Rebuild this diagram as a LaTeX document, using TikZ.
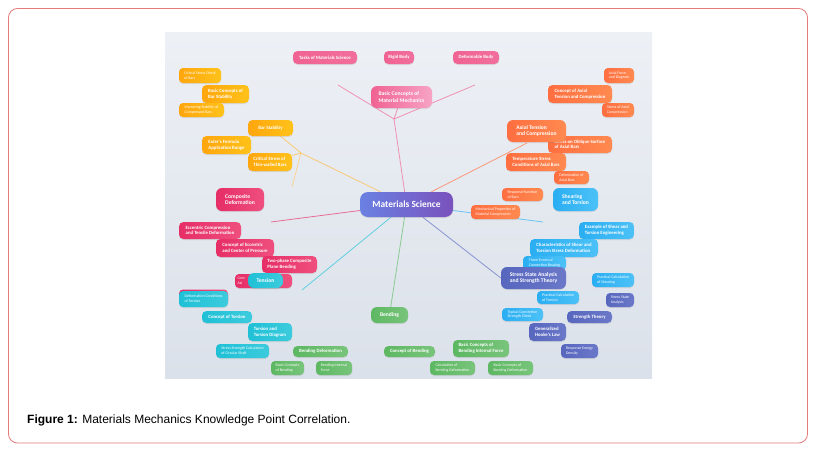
\documentclass[tikz,border=0pt]{standalone}
\usepackage{fontspec}
\newfontfamily\mapfont{Carlito}
\newfontfamily\capfont{Liberation Sans}
\usetikzlibrary{shadows}
\pgfdeclarelayer{bg}
\pgfdeclarelayer{lnk}
\pgfsetlayers{bg,lnk,main}
\definecolor{pkA}{HTML}{F06292}
\definecolor{pkB}{HTML}{F7A3C5}
\definecolor{crA}{HTML}{E62E66}
\definecolor{crB}{HTML}{EF4F7E}
\definecolor{amA}{HTML}{FFA60D}
\definecolor{amB}{HTML}{FFC21A}
\definecolor{orA}{HTML}{FF6E40}
\definecolor{orB}{HTML}{FF8A50}
\definecolor{cyA}{HTML}{1FC0D6}
\definecolor{cyB}{HTML}{3CCBDD}
\definecolor{blA}{HTML}{2AAEF2}
\definecolor{blB}{HTML}{4CC1F7}
\definecolor{grA}{HTML}{5DB862}
\definecolor{grB}{HTML}{78C47B}
\definecolor{inA}{HTML}{5767BE}
\definecolor{inB}{HTML}{6B78C9}
\definecolor{msA}{HTML}{6A80E2}
\definecolor{msB}{HTML}{7A52BD}
\definecolor{frm}{HTML}{E47A7A}
\tikzset{
    BX/.style ={align=left, text=white, inner sep=0pt,
        drop shadow={shadow xshift=0pt, shadow yshift=-1pt, opacity=0.18}},
    BA/.style ={BX, rounded corners=6pt, font=\mapfont\bfseries\fontsize{5.6}{6.8}\selectfont},
    BB/.style ={BX, rounded corners=4.5pt, font=\mapfont\bfseries\fontsize{4.8}{5.6}\selectfont},
    BC/.style ={BX, rounded corners=4pt, font=\mapfont\fontsize{3.9}{4.7}\selectfont},
    MS/.style ={BX, rounded corners=8pt, left color=msA, right color=msB,
        font=\mapfont\bfseries\fontsize{9.4}{10}\selectfont},
    sz/.style 2 args={minimum width=#1pt, minimum height=#2pt},
    PK/.style ={left color=pkA, right color=pkA!80!pkB},
    PG/.style ={left color=pkA, right color=pkB},
    CR/.style ={left color=crA, right color=crB},
    AM/.style ={left color=amA, right color=amB},
    OR/.style ={left color=orA, right color=orB},
    CY/.style ={left color=cyA, right color=cyB},
    BL/.style ={left color=blA, right color=blB},
    GR/.style ={left color=grA, right color=grB},
    IN/.style ={left color=inA, right color=inB},
    LK/.style ={line width=0.8pt, opacity=0.8}}

\begin{document}
\begin{tikzpicture}[x=1pt,y=-1pt]
        \useasboundingbox (0,0) rectangle (817,450);
        \begin{pgfonlayer}{bg}
        \fill[white] (0,0) rectangle (817,450);
        \draw[frm, line width=0.8pt, rounded corners=9pt] (8.5,8.5) rectangle (807.5,443);
        \shade[top color={rgb,255:red,237;green,240;blue,245}, bottom color={rgb,255:red,219;green,225;blue,234}] (165,32) rectangle (652,378);
        \end{pgfonlayer}
        % upper branches
        \node[BB,PK,sz={64}{13}] (tasks) at(325,57.5){Tasks of Materials Science};
        \node[BB,PK,sz={30}{13}] (rigid) at(399,57.5){Rigid Body};
        \node[BB,PK,sz={46}{13}] (defb) at(476,57.5){Deformable Body};
        \node[BA,PG,sz={61}{22}] (bcm) at(401.5,97){Basic Concepts of\\Material Mechanics};
        \node[BC,AM,sz={42}{15}] (csc) at(200,75.5){Critical Stress Check\\of Bars};
        \node[BB,AM,sz={47}{18}] (bcbs) at(225.5,94){Basic Concepts of\\Bar Stability};
        \node[BC,AM,sz={45}{14}] (isb) at(201.5,110){Improving Stability of\\Compressed Bars};
        \node[BB,AM,sz={45}{16}] (bar) at(270.5,128){Bar Stability};
        \node[BB,AM,sz={49}{18}] (euler) at(226.5,145){Euler's Formula\\Application Range};
        \node[BB,AM,sz={44}{18}] (crt) at(270,162){Critical Stress of\\Thin-walled Bars};
        \node[BC,OR,sz={30}{15}] (afd) at(619,75.5){Axial Force\\and Diagram};
        \node[BB,OR,sz={64}{18}] (cata) at(580,94){Concept of Axial\\Tension and Compression};
        \node[BC,OR,sz={32}{14}] (sac) at(618,110){Stress of Axial\\Compression};
        \node[BB,OR,sz={64}{17}] (sob) at(580,144.5){Stress on Oblique Surface\\of Axial Bars};
        \node[BA,OR,sz={59}{22}] (atc) at(536.5,131){Axial Tension\\and Compression};
        \node[BB,OR,sz={60}{18}] (tmp) at(536,162){Temperature Stress\\Conditions of Axial Bars};
        \node[BC,OR,sz={35}{13}] (dab) at(571.5,177.5){Deformation of\\Axial Bars};
        \node[BC,OR,sz={41}{13}] (rfb) at(522.5,194.5){Response Function\\of Bars};
        \node[BA,BL,sz={45}{23}] (sht) at(575.5,199.5){Shearing\\and Torsion};
        \node[BC,OR,sz={49}{14}] (mpm) at(495.5,212){Mechanical Properties of\\Material Compression};
        \node[MS,sz={93}{25}] (ms) at(406.5,204.5){Materials Science};
        % left branches
        \node[BA,CR,sz={48}{23}] (cpd) at(240,199.5){Composite\\Deformation};
        \node[BB,CR,sz={62}{17}] (ecc) at(210,230.5){Eccentric Compression\\and Tensile Deformation};
        \node[BB,CR,sz={58}{18}] (cec) at(245,248){Concept of Eccentric\\and Center of Pressure};
        \node[BB,CR,sz={55}{17}] (tpc) at(289.5,264.5){Two-phase Composite\\Plane Bending};
        \node[BC,CR,sz={57}{14}, text width=52pt] (cax) at(263.5,281){Com\\Axi};
        \node[BA,CY,sz={35}{15}] (tens) at(265.5,280.5){Tension};
        \node[BC,CR,sz={49}{15}] (cbk) at(203.5,297){};
        \node[BC,CY,sz={49}{16}] (dct) at(203.5,299){Deformation Conditions\\of Torsion};
        \node[BB,CY,sz={50}{12}] (ctor) at(227,317){Concept of Torsion};
        \node[BB,CY,sz={44}{18}] (ttd) at(270,332){Torsion and\\Torsion Diagram};
        \node[BC,CY,sz={53}{14}] (sscs) at(242.5,351){Stress Strength Calculation\\of Circular Shaft};
        % lower branches
        \node[BB,GR,sz={55}{11}] (bdef) at(320.5,351.5){Bending Deformation};
        \node[BC,GR,sz={33}{14}] (bcb) at(287.5,368){Basic Concepts\\of Bending};
        \node[BC,GR,sz={36}{14}] (bif) at(334,368){Bending Internal\\Force};
        \node[BA,GR,sz={37}{16}] (bend) at(389.5,315){Bending};
        \node[BB,GR,sz={51}{11}] (cben) at(409.5,351.5){Concept of Bending};
        \node[BB,GR,sz={56}{17}] (bcbif) at(481,348.5){Basic Concepts of\\Bending Internal Force};
        \node[BC,GR,sz={45}{14}] (cbd) at(452.5,368){Calculation of\\Bending Deformation};
        \node[BC,GR,sz={45}{14}] (bcbd) at(510.5,368){Basic Concepts of\\Bending Deformation};
        % right branches
        \node[BB,BL,sz={55}{17}] (esh) at(606.5,230.5){Example of Shear and\\Torsion Engineering};
        \node[BB,BL,sz={68}{18}] (csh) at(564,248){Characteristics of Shear and\\Torsion Stress Deformation};
        \node[BC,BL,sz={43}{14}] (tfc) at(544.5,263){Three Forms of\\Connection Bearing};
        \node[BA,IN,sz={65}{22}] (ssa) at(533.5,278){Stress State Analysis\\and Strength Theory};
        \node[BC,BL,sz={42}{14}] (pcs) at(613,280){Practical Calculation\\of Shearing};
        \node[BC,BL,sz={42}{13}] (pct) at(558,297.5){Practical Calculation\\of Torsion};
        \node[BC,IN,sz={28}{14}] (ssan) at(620,300){Stress State\\Analysis};
        \node[BC,BL,sz={41}{13}] (tcc) at(522.5,314.5){Typical Connection\\Strength Check};
        \node[BB,IN,sz={45}{12}] (sth) at(589.5,317){Strength Theory};
        \node[BB,IN,sz={37}{18}] (ghl) at(547.5,332){Generalized\\Hooke's Law};
        \node[BC,IN,sz={37}{14}] (red) at(579.5,351){Response Energy\\Density};
        % links
        \coordinate (jpk) at(394,119);
        \coordinate (pk1) at(338,85);
        \coordinate (pk2) at(475,85);
        \coordinate (jam) at(301,153);
        \coordinate (am1) at(292,187);
        \coordinate (jor) at(527,143);
        \coordinate (bl1) at(543,222);
        \coordinate (cr1) at(271,222);
        \coordinate (cy1) at(302,290);
        \begin{pgfonlayer}{lnk}
        \draw[LK,pkA!85] (ms) --(jpk);
        \draw[LK,pkA!85] (jpk) --(bcm);
        \draw[LK,pkA!85] (jpk) --(pk1);
        \draw[LK,pkA!85] (jpk) --(pk2);
        \draw[LK,amA!70] (ms) --(jam);
        \draw[LK,amA!70] (jam) --(bar);
        \draw[LK,amA!70] (jam) --(crt);
        \draw[LK,amA!55] (jam) --(am1);
        \draw[LK,orA!85] (ms) --(jor);
        \draw[LK,blA!85] (ms) --(bl1);
        \draw[LK,crA!85] (ms) --(cr1);
        \draw[LK,cyA!85] (ms) --(cy1);
        \draw[LK,grA!85] (ms) --(bend);
        \draw[LK,inA!85] (ms) --(ssa.west);
        \end{pgfonlayer}
        \node[anchor=base west, inner sep=0pt, font=\capfont\fontsize{12}{14}\selectfont] (cap) at(27,423)
            {\textbf{Figure 1:} Materials Mechanics Knowledge Point Correlation.};
    \end{tikzpicture}
\end{document}
